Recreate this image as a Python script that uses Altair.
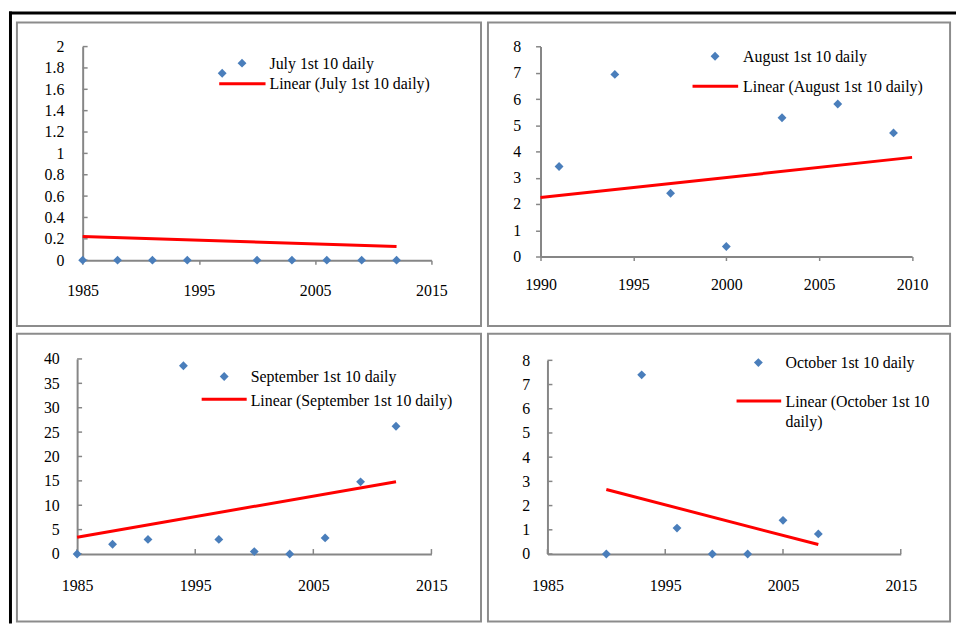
import altair as alt
import pandas as pd

# ---------------- data ----------------
years = [1985, 1988, 1991, 1994, 1997, 2000, 2003, 2006, 2009, 2012]
july_vals = [0, 0, 0, 0, 1.75, 0, 0, 0, 0, 0]
# August: the 1985, 1988 and 2012 values (zero) lie outside the 1990-2010 axis,
# they only show through the trend line
aug_vals = [0, 0, 3.43, 6.94, 2.41, 0.38, 5.29, 5.81, 4.71, 0]
sep_vals = [0, 2.0, 3.0, 38.6, 3.0, 0.5, 0, 3.3, 14.8, 26.2]
oct_years = [1990, 1993, 1996, 1999, 2002, 2005, 2008]
oct_vals = [0, 7.4, 1.07, 0, 0, 1.39, 0.83]

july_xticks = [1985, 1995, 2005, 2015]
july_yticks = [0, 0.2, 0.4, 0.6, 0.8, 1, 1.2, 1.4, 1.6, 1.8, 2]
aug_xticks = [1990, 1995, 2000, 2005, 2010]
aug_yticks = [0, 1, 2, 3, 4, 5, 6, 7, 8]
sep_xticks = [1985, 1995, 2005, 2015]
sep_yticks = [0, 5, 10, 15, 20, 25, 30, 35, 40]
oct_xticks = [1985, 1995, 2005, 2015]
oct_yticks = [0, 1, 2, 3, 4, 5, 6, 7, 8]

names = ["July 1st 10 daily", "August 1st 10 daily",
         "September 1st 10 daily", "October 1st 10 daily"]

BLUE = "#4A7EBB"
RED = "#FF0000"
GRAY = "#868686"
FONT = "Liberation Serif"


def panel(yrs, vals, name, xdom, xrng, ydom, yrng, xticks, yticks, w, h,
          x_out, y_out, xpad, ypad, leg, trend_lines, extent=None, extra=None):
    df = pd.DataFrame({"year": yrs, "value": vals})
    xs = alt.Scale(domain=xdom, range=xrng, nice=False, zero=False)
    ys = alt.Scale(domain=ydom, range=yrng, nice=False, zero=False)
    xaxis = alt.Axis(values=xticks, format="d", title=None, grid=False,
                     offset=yrng[0] - h, ticks=x_out, tickSize=4,
                     labelPadding=xpad, labelFlush=False, labelOverlap=False)
    yaxis = alt.Axis(values=yticks, format="~g", title=None, grid=False,
                     offset=-xrng[0], ticks=y_out, tickSize=5,
                     labelPadding=ypad, labelFlush=False, labelOverlap=False)
    X = alt.X("year:Q", scale=xs, axis=xaxis)
    Y = alt.Y("value:Q", scale=ys, axis=yaxis)

    layers = []
    if not y_out:
        layers.append(
            alt.Chart(pd.DataFrame({"value": yticks})).mark_rule(color=GRAY, strokeWidth=1.5)
            .encode(y=Y, x=alt.value(xrng[0]), x2=alt.value(xrng[0] + 5)))
    if not x_out:
        layers.append(
            alt.Chart(pd.DataFrame({"year": xticks})).mark_rule(color=GRAY, strokeWidth=1.5)
            .encode(x=X, y=alt.value(yrng[0]), y2=alt.value(yrng[0] - 5)))

    reg = alt.Chart(df)
    if extent is not None:
        reg = reg.transform_regression("year", "value", extent=extent)
    else:
        reg = reg.transform_regression("year", "value")
    layers.append(reg.mark_line(color=RED, strokeWidth=3).encode(x=X, y=Y))

    layers.append(
        alt.Chart(df)
        .transform_filter(f"datum.year >= {xdom[0]} && datum.year <= {xdom[1]}")
        .mark_point(shape="diamond", filled=True, size=80, color=BLUE, opacity=1)
        .encode(x=X, y=Y))

    one = pd.DataFrame({"k": [0]})
    layers.append(
        alt.Chart(one).mark_point(shape="diamond", filled=True, size=80, color=BLUE, opacity=1)
        .encode(x=alt.value(leg["pt"][0]), y=alt.value(leg["pt"][1])))
    layers.append(
        alt.Chart(one).mark_rule(color=RED, strokeWidth=3)
        .encode(x=alt.value(leg["line"][0]), x2=alt.value(leg["line"][1]),
                y=alt.value(leg["line"][2])))
    layers.append(
        alt.Chart(one).mark_text(align="left", baseline="middle", font=FONT,
                                 fontSize=16, color="black")
        .encode(x=alt.value(leg["t1"][0]), y=alt.value(leg["t1"][1]),
                text=alt.value(name)))
    for (tx, ty), line in zip(leg["t2"], trend_lines):
        layers.append(
            alt.Chart(one).mark_text(align="left", baseline="middle", font=FONT,
                                     fontSize=16, color="black")
            .encode(x=alt.value(tx), y=alt.value(ty), text=alt.value(line)))
    if extra:
        layers.extend(extra)
    return alt.layer(*layers).properties(width=w, height=h)


one_row = pd.DataFrame({"k": [0]})
frame = [
    alt.Chart(one_row).mark_rect(color="black")
    .encode(x=alt.value(-8), x2=alt.value(-5), y=alt.value(-11), y2=alt.value(606)),
    alt.Chart(one_row).mark_rect(color="black")
    .encode(x=alt.value(-8), x2=alt.value(947), y=alt.value(-11), y2=alt.value(-8)),
]

p1 = panel(years, july_vals, names[0], [1985, 2015], [66.3, 418], [0, 2], [239.7, 24.3],
           july_xticks, july_yticks, 468, 306, True, False, 19, 19,
           {"pt": (227, 41), "line": (204, 250.7, 61.7), "t1": (254.7, 41.7),
            "t2": [(254.7, 61.7)]},
           ["Linear (July 1st 10 daily)"], extra=frame)
p2 = panel(years, aug_vals, names[1], [1990, 2010], [53, 427.7], [0, 8], [236, 24.3],
           aug_xticks, aug_yticks, 466, 306, True, True, 16, 15,
           {"pt": (229, 34), "line": (206.3, 252.3, 64.3), "t1": (257.3, 34.5),
            "t2": [(257.3, 65.3)]},
           ["Linear (August 1st 10 daily)"], extent=[1990, 2010])
p3 = panel(years, sep_vals, names[2], [1985, 2015], [60.7, 418], [0, 40], [222, 25.3],
           sep_xticks, sep_yticks, 468, 290, False, False, 24, 18,
           {"pt": (209, 43), "line": (186.3, 231.7, 66), "t1": (235.7, 43.2),
            "t2": [(235.7, 67.3)]},
           ["Linear (September 1st 10 daily)"])
p4 = panel(oct_years, oct_vals, names[3], [1985, 2015], [60, 416.3], [0, 8], [222, 26.7],
           oct_xticks, oct_yticks, 466, 290, False, False, 24, 18,
           {"pt": (272.7, 29), "line": (250.7, 295.7, 67.7), "t1": (300, 29.8),
            "t2": [(300, 69), (300, 89)]},
           ["Linear (October 1st 10", "daily)"])

chart = (
    alt.concat(p1, p2, p3, p4, columns=2, spacing={"row": 8, "column": 7}, bounds="flush")
    .properties(padding=0)
    .configure_view(stroke="#8c8c8c", strokeWidth=2)
    .configure_axis(domainColor=GRAY, domainWidth=2, tickColor=GRAY, tickWidth=1.5,
                    labelFont=FONT, labelFontSize=16, labelColor="black")
)

chart.save("out.html", embed_options={"renderer": "svg", "actions": False})
